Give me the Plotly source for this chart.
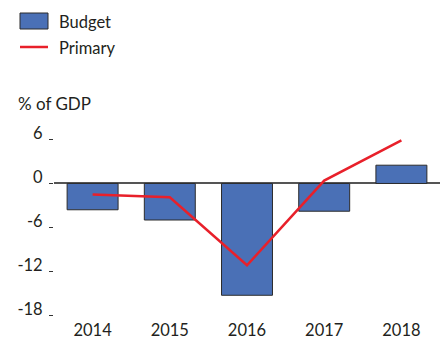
import plotly.graph_objects as go

years = ["2014", "2015", "2016", "2017", "2018"]
budget = [-3.6, -5.0, -15.3, -3.8, 2.5]
primary = [-1.5, -1.9, -11.2, 0.4, 5.9]
y_ticks = [6, 0, -6, -12, -18]
y_tick_labels = ["6", "0", "-6", "-12", "-18"]
series_names = ["Budget", "Primary"]

FONT = "Lato"
TXT = "#231f20"
BAR_COLOR = "#4a70b6"
LINE_COLOR = "#e8202a"

W, H = 443, 339
ML, MR, MT, MB = 54, 3, 125, 24
PW, PH = W - ML - MR, H - MT - MB


def px(x):
    return (x - ML) / PW


def py(y):
    return (H - MB - y) / PH


fig = go.Figure()
fig.add_trace(go.Bar(
    x=years, y=budget, name=series_names[0],
    marker=dict(color=BAR_COLOR, line=dict(color="#2b2b2b", width=1)),
))
fig.add_trace(go.Scatter(
    x=years, y=primary, name=series_names[1], mode="lines",
    line=dict(color=LINE_COLOR, width=2.5),
))

shapes = [
    dict(type="rect", xref="paper", yref="paper",
         x0=px(20), x1=px(48), y0=py(29), y1=py(13),
         fillcolor=BAR_COLOR, line=dict(color="#2b2b2b", width=1)),
    dict(type="line", xref="paper", yref="paper",
         x0=px(20), x1=px(48), y0=py(47), y1=py(47),
         line=dict(color=LINE_COLOR, width=2.5)),
]
annotations = [
    dict(text=series_names[0], xref="paper", yref="paper",
         x=px(57), y=py(22), xanchor="left", yanchor="middle",
         showarrow=False, font=dict(size=16.5, color=TXT)),
    dict(text=series_names[1], xref="paper", yref="paper",
         x=px(57), y=py(48), xanchor="left", yanchor="middle",
         showarrow=False, font=dict(size=16.5, color=TXT)),
    dict(text="% of GDP", xref="paper", yref="paper",
         x=px(16), y=py(103), xanchor="left", yanchor="middle",
         showarrow=False, font=dict(size=17, color=TXT)),
]

fig.update_layout(
    width=W, height=H,
    margin=dict(l=ML, r=MR, t=MT, b=MB, autoexpand=False),
    paper_bgcolor="white", plot_bgcolor="white",
    font=dict(family=FONT, size=16, color=TXT),
    bargap=0.34,
    showlegend=False,
    xaxis=dict(
        showgrid=False, showline=False, ticks="", automargin=False,
        ticklabelstandoff=3,
        tickfont=dict(size=16.5, color=TXT),
    ),
    yaxis=dict(
        range=[-18, 8], tickvals=y_ticks, ticktext=y_tick_labels,
        showgrid=False, showline=False, automargin=False,
        ticks="outside", ticklen=4, tickcolor="#333", tickwidth=1,
        ticklabelshift=-6, ticklabelstandoff=3,
        zeroline=True, zerolinecolor="#555", zerolinewidth=1.5,
        tickfont=dict(size=16.5, color=TXT),
    ),
    shapes=shapes,
    annotations=annotations,
)

fig.write_html("out.html")
